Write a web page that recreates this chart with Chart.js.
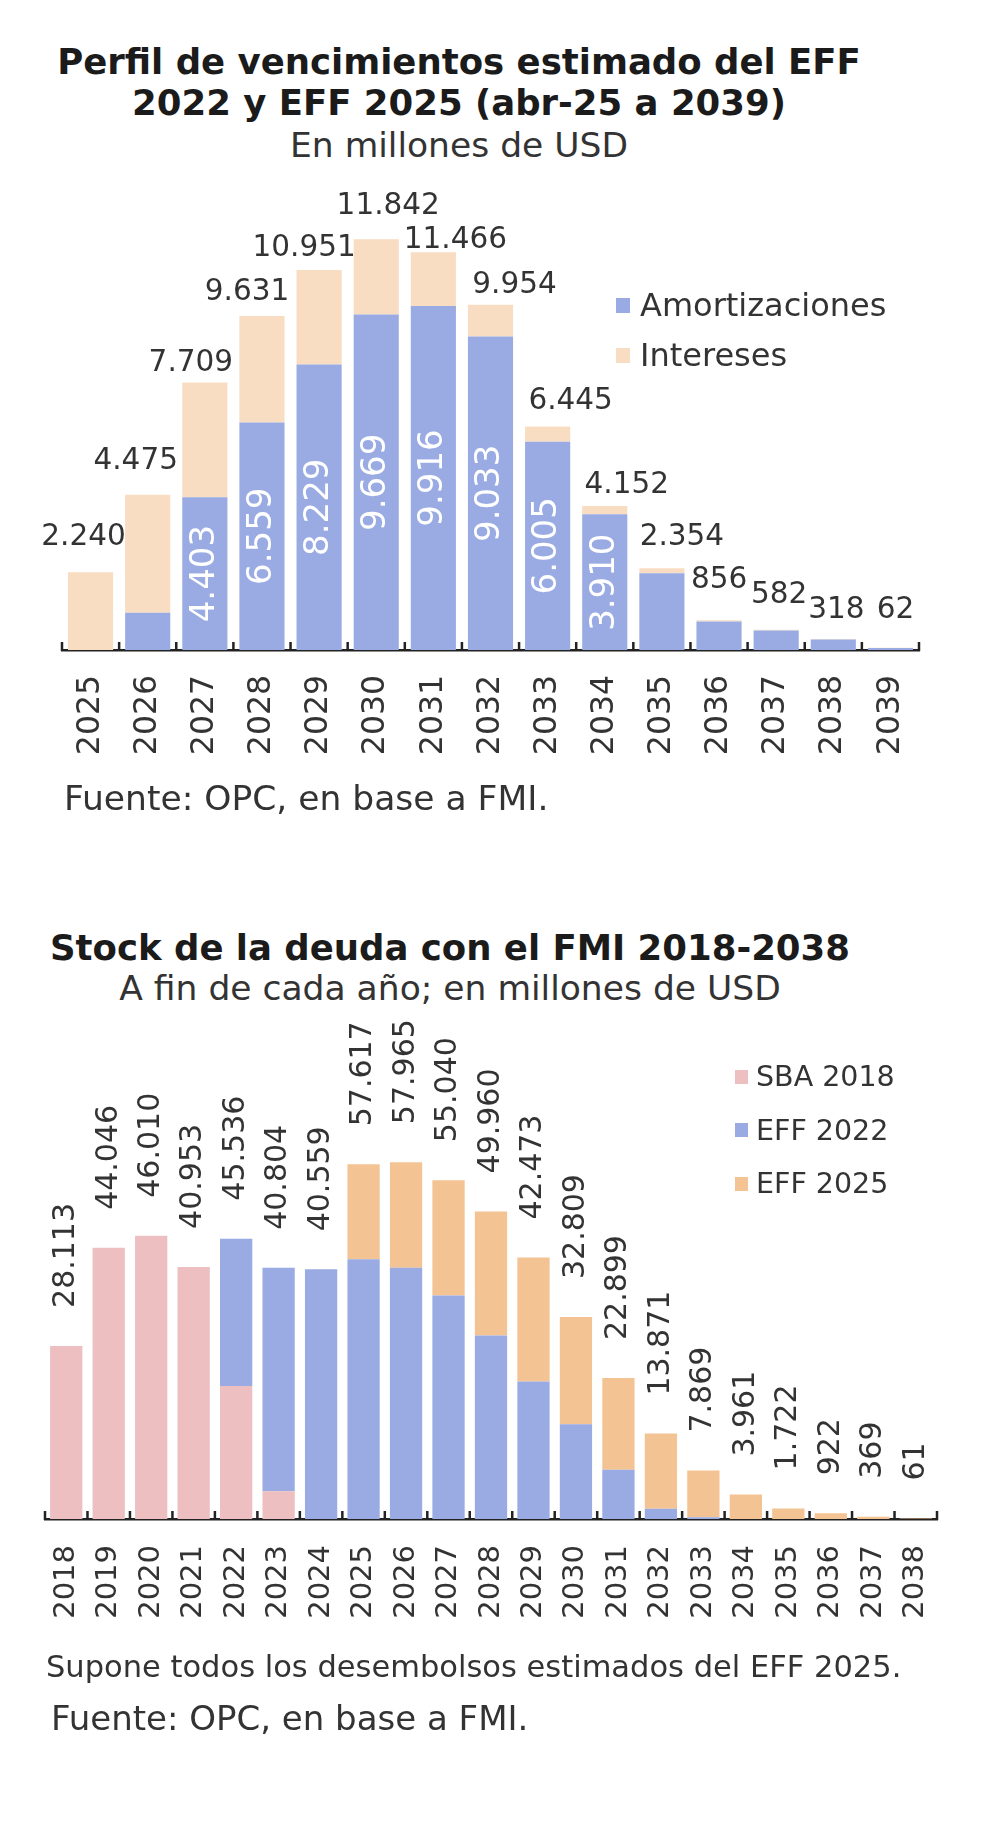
<!DOCTYPE html>
<html>
<head>
<meta charset="utf-8">
<script src="https://cdn.jsdelivr.net/npm/chart.js@4.4.1/dist/chart.umd.min.js"></script>
<style>
body { margin: 0; background: #fff; font-family: 'DejaVu Sans', sans-serif; color: #333; }
#page { position: relative; width: 1000px; height: 1839px; overflow: hidden; }
.txt { position: absolute; white-space: nowrap; line-height: 1; }
.title { font-weight: bold; color: #1b1b1b; font-size: 35.5px; text-align: center; }
.sub { font-size: 34.5px; text-align: center; }
canvas { position: absolute; left: 0; }
.legend { position: absolute; }
.legend .row { display: flex; align-items: center; white-space: nowrap; }
.legend .sw { display: inline-block; }
</style>
</head>
<body>
<div id="page">
  <div class="txt title" style="left:0;width:918px;top:44px">Perfil de vencimientos estimado del EFF</div>
  <div class="txt title" style="left:0;width:918px;top:85px">2022 y EFF 2025 (abr-25 a 2039)</div>
  <div class="txt sub" style="left:0;width:918px;top:128px">En millones de USD</div>
  <canvas id="c1" width="1000" height="640" style="top:160px"></canvas>
  <div id="leg1" class="legend" style="left:616px;top:280px"></div>
  <div class="txt" style="left:64px;top:781px;font-size:34.5px">Fuente: OPC, en base a FMI.</div>

  <div class="txt title" style="left:0;width:900px;top:930px">Stock de la deuda con el FMI 2018-2038</div>
  <div class="txt sub" style="left:0;width:900px;top:971px">A fin de cada año; en millones de USD</div>
  <canvas id="c2" width="1000" height="700" style="top:1000px"></canvas>
  <div id="leg2" class="legend" style="left:735px;top:1050px"></div>
  <div class="txt" style="left:46px;top:1652px;font-size:30.5px">Supone todos los desembolsos estimados del EFF 2025.</div>
  <div class="txt" style="left:51px;top:1701px;font-size:34px">Fuente: OPC, en base a FMI.</div>
</div>
<script>
// Perfil de vencimientos (millones de USD)
const years1 = ['2025', '2026', '2027', '2028', '2029', '2030', '2031', '2032', '2033', '2034', '2035', '2036', '2037', '2038', '2039'];
const amortizaciones = [0, 1075, 4403, 6559, 8229, 9669, 9916, 9033, 6005, 3910, 2210, 820, 560, 305, 60];
const intereses = [2240, 3400, 3306, 3072, 2722, 2173, 1550, 921, 440, 242, 144, 36, 22, 13, 2];
const totales1 = [2240, 4475, 7709, 9631, 10951, 11842, 11466, 9954, 6445, 4152, 2354, 856, 582, 318, 62];

// Stock de la deuda con el FMI (millones de USD)
const years2 = ['2018', '2019', '2020', '2021', '2022', '2023', '2024', '2025', '2026', '2027', '2028',
                '2029', '2030', '2031', '2032', '2033', '2034', '2035', '2036', '2037', '2038'];
const sba2018 = [28113, 44046, 46010, 40953, 21600, 4500, 0, 0, 0, 0, 0, 0, 0, 0, 0, 0, 0, 0, 0, 0, 0];
const eff2022 = [0, 0, 0, 0, 23936, 36304, 40559, 42200, 40820, 36310, 29800, 22320, 15380, 7990, 1660, 300, 0, 0, 0, 0, 0];
const eff2025 = [0, 0, 0, 0, 0, 0, 0, 15417, 17145, 18730, 20160, 20153, 17429, 14909, 12211, 7569, 3961, 1722, 922, 369, 61];
const totales2 = [28113, 44046, 46010, 40953, 45536, 40804, 40559, 57617, 57965, 55040, 49960,
                  42473, 32809, 22899, 13871, 7869, 3961, 1722, 922, 369, 61];

const FONT = 'DejaVu Sans';
const TEXT = '#333';

function fmt(n) {
    return String(n).replace(/\B(?=(\d{3})+(?!\d))/g, '.');
}

// little tick marks on the category borders, pointing up
const axisTicks = {
    id: 'axisTicks',
    afterDraw(chart) {
        const xs = chart.scales.x;
        const ctx = chart.ctx;
        const step = xs.getPixelForValue(1) - xs.getPixelForValue(0);
        ctx.save();
        ctx.strokeStyle = '#222';
        ctx.lineWidth = 2.5;
        for (let i = 0; i <= xs.ticks.length; i++) {
            const x = xs.getPixelForValue(i) - step / 2;
            ctx.beginPath();
            ctx.moveTo(x, xs.top - 8);
            ctx.lineTo(x, xs.top + 1);
            ctx.stroke();
        }
        ctx.restore();
    }
};

// label nudges for chart 1 totals (dx, distance above bar top)
const shift1 = [[-7, 35], [-12, 33], [-14, 19], [-15, 24], [-15, 22], [12, 33], [22, 12], [24, 19],
                [23, 25], [22, 21], [20, 31], [0, 40], [3, 34], [3, 29], [5, 38]];

const labels1 = {
    id: 'labels1',
    afterDatasetsDraw(chart) {
        const ctx = chart.ctx;
        const am = chart.getDatasetMeta(0).data;
        const it = chart.getDatasetMeta(1).data;
        ctx.save();
        ctx.textAlign = 'center';
        ctx.textBaseline = 'middle';
        ctx.fillStyle = '#fff';
        ctx.font = '34px "' + FONT + '"';
        am.forEach((bar, i) => {
            if (amortizaciones[i] < 3000) return;
            ctx.save();
            ctx.translate(bar.x, (bar.y + bar.base) / 2);
            ctx.rotate(-Math.PI / 2);
            ctx.fillText(fmt(amortizaciones[i]), 0, 0);
            ctx.restore();
        });
        ctx.fillStyle = TEXT;
        ctx.font = '29.5px "' + FONT + '"';
        it.forEach((bar, i) => {
            const top = Math.min(bar.y, am[i].y);
            ctx.fillText(fmt(totales1[i]), bar.x + shift1[i][0], top - shift1[i][1]);
        });
        ctx.restore();
    }
};

const labels2 = {
    id: 'labels2',
    afterDatasetsDraw(chart) {
        const ctx = chart.ctx;
        const metas = [0, 1, 2].map(d => chart.getDatasetMeta(d).data);
        ctx.save();
        ctx.fillStyle = TEXT;
        ctx.font = '30px "' + FONT + '"';
        ctx.textAlign = 'left';
        ctx.textBaseline = 'middle';
        metas[0].forEach((bar, i) => {
            const top = Math.min(...metas.map(m => m[i].y));
            ctx.save();
            ctx.translate(bar.x, top - 38);
            ctx.rotate(-Math.PI / 2);
            ctx.fillText(fmt(totales2[i]), 0, 0);
            ctx.restore();
        });
        ctx.restore();
    }
};

function xAxis(size, pad, h) {
    return {
        stacked: true,
        grid: { display: false },
        border: { display: true, color: '#222', width: 2.5 },
        ticks: {
            color: TEXT, font: { family: FONT, size: size },
            minRotation: 90, maxRotation: 90, autoSkip: false, padding: pad
        },
        afterFit(scale) { scale.height = h; }
    };
}

function makeLegend(el, items, fs, rowH, sw, gap) {
    items.forEach(it => {
        const row = document.createElement('div');
        row.className = 'row';
        row.style.height = rowH + 'px';
        row.style.fontSize = fs + 'px';
        const s = document.createElement('span');
        s.className = 'sw';
        s.style.width = sw[0] + 'px';
        s.style.height = sw[1] + 'px';
        s.style.background = it.color;
        s.style.marginRight = gap + 'px';
        row.appendChild(s);
        row.appendChild(document.createTextNode(it.label));
        el.appendChild(row);
    });
}

const BLUE = '#99abe2';
const PEACH = '#f9ddc2';
const PINK = '#edbfc1';
const ORANGE = '#f3c393';

const ds1 = [
    { label: 'Amortizaciones', data: amortizaciones, backgroundColor: BLUE },
    { label: 'Intereses', data: intereses, backgroundColor: PEACH }
];
ds1.forEach(d => { d.barPercentage = 0.79; d.categoryPercentage = 1; });

new Chart(document.getElementById('c1'), {
    type: 'bar',
    data: { labels: years1, datasets: ds1 },
    options: {
        responsive: false, animation: false, devicePixelRatio: 1,
        layout: { padding: { top: 39, left: 62, right: 81, bottom: 0 } },
        plugins: { legend: { display: false }, tooltip: { enabled: false } },
        scales: {
            x: xAxis(31.5, 17, 150),
            y: { stacked: true, display: false, min: 0, max: 13000 }
        }
    },
    plugins: [axisTicks, labels1]
});
makeLegend(document.getElementById('leg1'),
    ds1.map(d => ({ label: d.label, color: d.backgroundColor })), 32, 50, [14, 15], 10);

const ds2 = [
    { label: 'SBA 2018', data: sba2018, backgroundColor: PINK },
    { label: 'EFF 2022', data: eff2022, backgroundColor: BLUE },
    { label: 'EFF 2025', data: eff2025, backgroundColor: ORANGE }
];
ds2.forEach(d => { d.barPercentage = 0.76; d.categoryPercentage = 1; });

new Chart(document.getElementById('c2'), {
    type: 'bar',
    data: { labels: years2, datasets: ds2 },
    options: {
        responsive: false, animation: false, devicePixelRatio: 1,
        layout: { padding: { top: 125, left: 45, right: 63, bottom: 0 } },
        plugins: { legend: { display: false }, tooltip: { enabled: false } },
        scales: {
            x: xAxis(29, 18, 181),
            y: { stacked: true, display: false, min: 0, max: 64000 }
        }
    },
    plugins: [axisTicks, labels2]
});
makeLegend(document.getElementById('leg2'),
    ds2.map(d => ({ label: d.label, color: d.backgroundColor })), 28.5, 53.5, [13, 14], 8);
</script>
</body>
</html>
